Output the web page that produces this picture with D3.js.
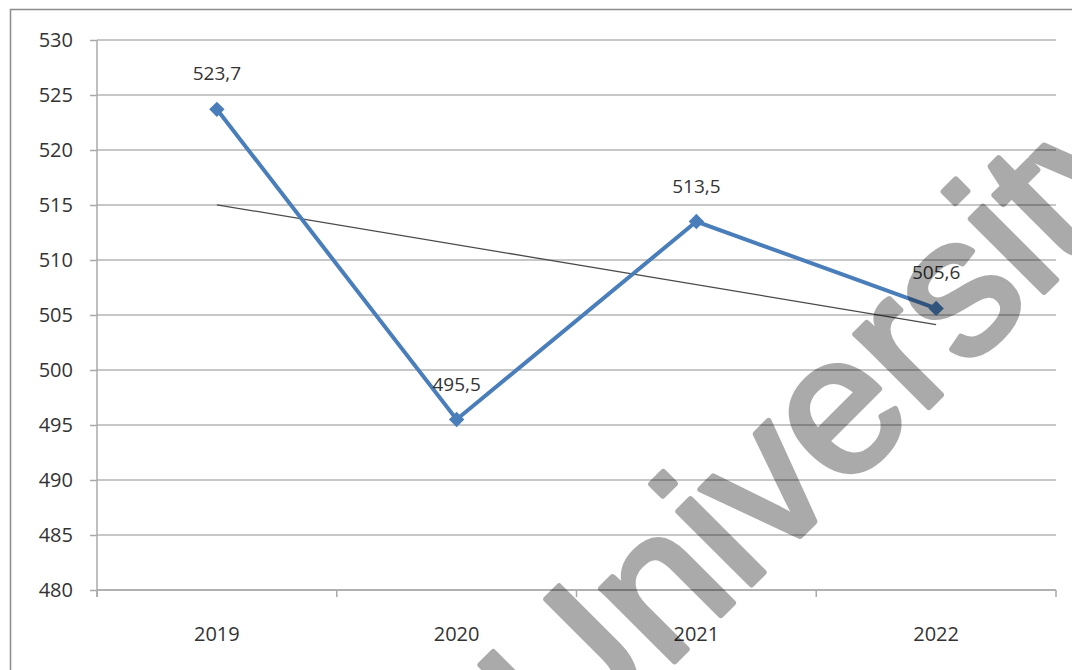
<!DOCTYPE html>
<html>
<head>
    <meta charset="utf-8">
    <script src="https://d3js.org/d3.v7.min.js"></script>
    <style>
        body { margin:0; background:#fff; }
        text { font-family:"Open Sans", sans-serif; fill:#333; }
        .axis path, .axis line { stroke:#aaa; stroke-width:1.5; }
        .grid { stroke:#b5b5b5; stroke-width:1.5; }
    </style>
</head>
<body>
    <svg id="chart" width="1072" height="670"></svg>

    <script>
        var years = ["2019", "2020", "2021", "2022"];
        var values = [523.7, 495.5, 513.5, 505.6];
        var yTicks = [480, 485, 490, 495, 500, 505, 510, 515, 520, 525, 530];

        var svg = d3.select("#chart");
        var plotLeft = 97, plotRight = 1056, plotTop = 40, plotBottom = 590;

        var x = d3.scaleBand().domain(years).range([plotLeft, plotRight]);
        var y = d3.scaleLinear().domain([480, 530]).range([plotBottom, plotTop]);
        var locale = d3.formatLocale({decimal: ",", thousands: " ", grouping: [3], currency: ["", ""]});
        var fmt = locale.format(".1f");

        // outer frame (only left and top edges are visible)
        svg.append("path")
            .attr("d", "M10.5,670 V9.5 H1072")
            .attr("fill", "none")
            .attr("stroke", "#8c8c8c")
            .attr("stroke-width", 1.5);

        // horizontal gridlines
        svg.selectAll("line.grid").data(yTicks).enter().append("line")
            .attr("class", "grid")
            .attr("x1", plotLeft).attr("x2", plotRight)
            .attr("y1", function(d){ return y(d); })
            .attr("y2", function(d){ return y(d); });

        // y axis
        var yAxis = svg.append("g").attr("class", "axis")
            .attr("transform", "translate(" + plotLeft + ",0)")
            .call(d3.axisLeft(y).tickValues(yTicks).tickSize(7).tickPadding(17));
        yAxis.select(".domain").attr("d", "M0," + plotTop + "V" + (plotBottom + 7));
        yAxis.selectAll("text").style("font-size", "20px").attr("fill", "#333");

        // x axis with ticks on band boundaries
        var xAxis = svg.append("g").attr("class", "axis");
        xAxis.append("line")
            .attr("x1", plotLeft).attr("x2", plotRight)
            .attr("y1", plotBottom).attr("y2", plotBottom);
        var bounds = years.map(function(d){ return x(d); }).concat([x.range()[1]]);
        xAxis.selectAll("line.tk").data(bounds).enter().append("line")
            .attr("class", "tk")
            .attr("x1", function(d){ return d; }).attr("x2", function(d){ return d; })
            .attr("y1", plotBottom).attr("y2", plotBottom + 7);
        xAxis.selectAll("text").data(years).enter().append("text")
            .attr("x", function(d){ return x(d) + x.bandwidth()/2; })
            .attr("y", 641)
            .attr("text-anchor", "middle")
            .style("font-size", "20px")
            .text(function(d){ return d; });

        var cx = function(d, i){ return x(years[i]) + x.bandwidth()/2; };

        // linear trend line
        var n = values.length;
        var mx = d3.mean(values, function(d, i){ return i; });
        var my = d3.mean(values);
        var slope = d3.sum(values, function(d, i){ return (i - mx) * (d - my); }) /
                    d3.sum(values, function(d, i){ return (i - mx) * (i - mx); });
        var trend = [my - slope * mx, my + slope * (n - 1 - mx)];
        svg.append("line")
            .attr("x1", cx(null, 0)).attr("x2", cx(null, n - 1))
            .attr("y1", y(trend[0])).attr("y2", y(trend[1]))
            .attr("stroke", "#4a4a4a")
            .attr("stroke-width", 1.3);

        // series line
        var line = d3.line()
            .x(function(d, i){ return cx(d, i); })
            .y(function(d){ return y(d); });
        svg.append("path")
            .datum(values)
            .attr("d", line)
            .attr("fill", "none")
            .attr("stroke", "#4a7ebb")
            .attr("stroke-width", 4);

        // diamond markers
        svg.selectAll("path.marker").data(values).enter().append("path")
            .attr("class", "marker")
            .attr("d", d3.symbol().type(d3.symbolDiamond2).size(150))
            .attr("transform", function(d, i){ return "translate(" + cx(d, i) + "," + y(d) + ")"; })
            .attr("fill", "#4a7ebb");

        // data labels
        svg.selectAll("text.lbl").data(values).enter().append("text")
            .attr("class", "lbl")
            .attr("x", cx)
            .attr("y", function(d){ return y(d) - 29; })
            .attr("text-anchor", "middle")
            .style("font-size", "19px")
            .text(function(d){ return fmt(d); });

        // watermark
        svg.append("g")
            .attr("opacity", 0.33)
            .append("text")
            .attr("transform", "translate(565,771) rotate(-45)")
            .style("font-family", "'Liberation Sans', Arial, sans-serif")
            .style("font-size", "196px")
            .style("fill", "#000")
            .style("stroke", "#000")
            .style("stroke-width", 6)
            .style("stroke-linejoin", "round")
            .text("University");
    </script>
</body>
</html>
